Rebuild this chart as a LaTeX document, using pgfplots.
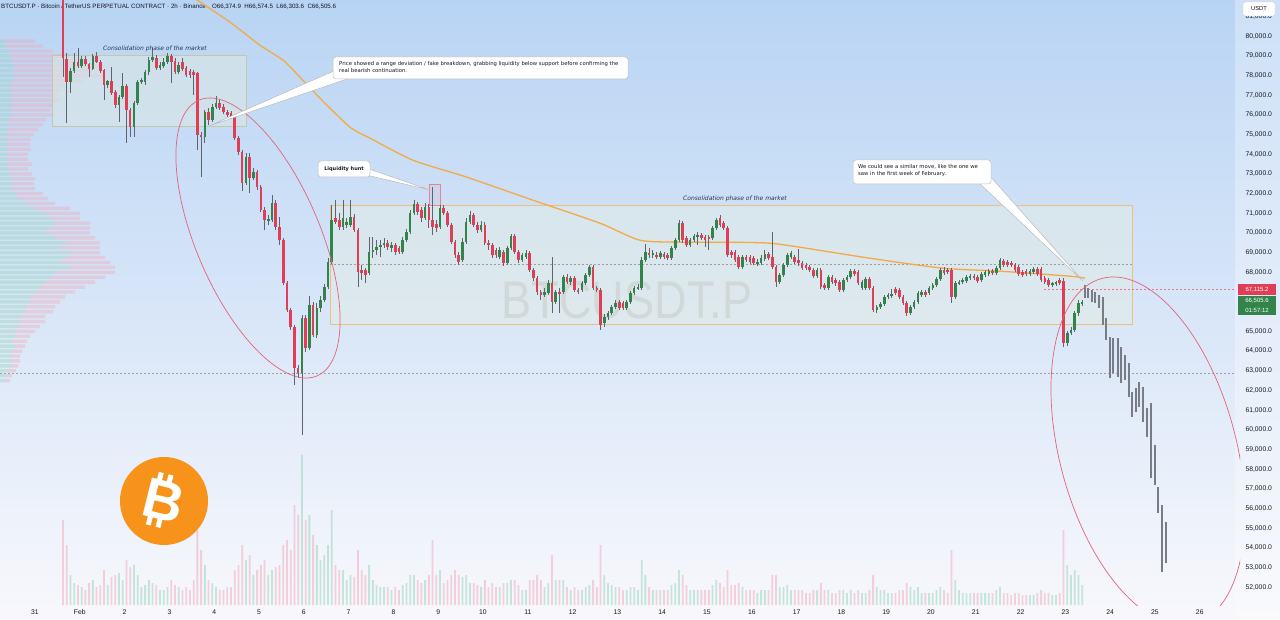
\documentclass[border=0pt]{standalone}
\usepackage{pgfplots}
\pgfplotsset{compat=1.18}
\usepackage{pgfplotstable}
\usepackage{fontspec}
\setmainfont{Liberation Sans}
\newfontfamily\dejavu{DejaVu Sans}
\definecolor{labc}{RGB}{19,23,34}
\definecolor{upc}{RGB}{50,132,74}
\definecolor{dnc}{RGB}{224,62,86}
\definecolor{wick}{RGB}{95,100,110}
\definecolor{bgtop}{RGB}{184,212,244}
\definecolor{bgmid}{RGB}{216,230,248}
\definecolor{bgbot}{RGB}{248,248,252}
\definecolor{maorange}{RGB}{242,170,70}
\definecolor{ellc}{RGB}{226,100,120}
\definecolor{btc}{RGB}{247,147,26}
\definecolor{projc}{RGB}{120,124,134}
\definecolor{box1f}{RGB}{222,232,228}
\definecolor{box1d}{RGB}{196,200,170}
\definecolor{box2f}{RGB}{226,236,228}
\definecolor{box2d}{RGB}{238,192,128}
\definecolor{volup}{RGB}{150,210,185}
\definecolor{voldn}{RGB}{240,170,185}
\definecolor{wm}{RGB}{190,196,205}
\definecolor{cons}{RGB}{40,52,80}

\pgfplotstableread{
t o h l c v
15 83500 83800 77917 78882 85
17 78832 79136 75579 77663 60
19 77663 78374 77104 78222 30
21 78222 79136 78120 78679 22
23 78679 79391 78374 78476 20
25 78476 78984 78374 78832 18
27 78832 78984 78476 78578 15
29 78578 78628 77917 78323 22
31 78323 79086 78273 78984 25
33 78984 79187 78628 78679 18
35 78679 78781 78120 78222 20
37 78273 78323 76748 77510 35
39 77510 77764 77358 77714 20
41 77714 78425 77002 77104 28
43 77155 77256 76341 76494 30
45 76494 77002 75630 76900 32
47 76900 78120 76799 77459 25
49 77459 77561 74563 76240 45
51 76240 76341 74867 75376 38
53 75376 76697 74867 76595 40
55 76595 77764 76494 77663 30
57 77663 77866 77561 77764 18
59 77663 78273 77510 78171 20
61 78171 78933 78019 78781 25
63 78781 79391 78679 78933 22
65 78882 79035 78273 78374 20
67 78374 78679 78273 78527 15
69 78476 78882 78374 78679 15
71 78679 79136 78578 78984 18
73 78984 79086 77612 78679 25
75 78730 78882 78069 78171 20
77 78171 78679 78069 78527 18
79 78679 78882 78222 78323 15
81 78374 78476 77917 78019 18
83 78222 78323 77866 78019 15
85 78171 78273 77002 78019 25
87 78120 78171 74207 74969 75
89 74969 75122 72835 74867 55
91 74867 76240 74563 76138 40
93 76138 76341 75478 75732 25
95 75732 76545 75630 76392 22
97 76392 76951 76291 76595 18
99 76595 76748 76240 76341 15
101 76392 76545 76037 76138 15
103 76138 76240 75884 75986 18
105 76087 76189 75782 75884 18
107 75884 75986 74715 74817 35
109 74817 74918 73953 74105 40
111 74105 74207 72124 72530 60
113 72530 74055 72428 73851 45
115 73851 74055 72022 72784 50
117 72784 73292 72682 73089 30
119 73089 73191 72174 72327 35
121 72327 72428 71056 71158 40
123 71158 71310 70141 70650 45
125 70650 70904 70396 70700 30
127 70650 71920 70548 71514 35
129 71514 71666 70141 70294 38
131 70294 70802 69379 69633 40
133 69633 69735 67346 67448 60
135 67448 67550 65974 66076 65
137 66076 66177 65059 65212 55
139 65212 65313 62264 63128 100
141 63128 63281 62620 62874 90
143 62874 65822 59723 65669 150
145 65669 65822 63942 64145 85
147 64145 66787 64043 66330 90
149 66330 66482 64704 64805 70
151 64805 66432 64653 66177 60
153 66177 66787 65974 66584 45
155 66584 67397 66482 67245 50
157 67245 68718 67143 68515 60
159 68515 71412 68414 70650 95
161 70751 71666 70446 70548 40
163 70650 71005 70141 70294 35
165 70294 71666 70141 70751 35
167 70396 70751 70243 70548 25
169 70396 71666 70294 70802 30
171 70802 70955 70040 70141 28
173 70141 70243 67245 68007 55
175 68109 68363 67600 67956 35
177 68109 68210 67448 67855 30
179 67956 69786 67855 69023 40
181 69023 69786 68718 69125 25
183 69125 69633 68871 69277 20
185 69277 69633 68769 69379 18
187 69379 69735 69227 69481 18
189 69481 69633 69125 69277 18
191 69227 69531 69023 69379 15
193 69379 69481 68871 69023 18
195 69227 69328 68922 69023 15
197 69023 69786 68922 69633 20
199 69633 70192 69531 70040 22
201 70040 71158 69938 71005 30
203 71005 71666 70904 71463 30
205 71463 71564 70904 71056 25
207 71158 71310 70548 70751 22
209 70751 71514 70650 71310 25
211 71310 71463 70243 70650 30
213 70650 72327 69887 70294 65
215 70446 70650 70040 70243 30
217 70294 71412 70192 71260 35
219 71260 71412 70904 71005 22
221 71005 71107 70294 70396 25
223 70396 70497 69430 69531 30
225 69531 69633 68718 68871 35
227 68871 69023 68363 68515 30
229 68617 69735 68515 69531 28
231 69531 70751 69430 70548 30
233 70548 71107 70446 70904 22
235 70904 71005 70294 70396 22
237 70396 70548 69989 70141 20
239 70141 70599 70040 70396 18
241 70396 70548 69379 69481 25
243 69481 69633 69125 69379 18
245 69379 69481 68718 68871 22
247 69125 69227 68718 68871 18
249 68769 69277 68668 69125 18
251 69023 69125 68312 68464 22
253 68464 69328 68363 69227 22
255 69227 69938 69125 69836 25
257 69836 69938 68922 69023 25
259 69023 69125 68464 68617 20
261 68617 68973 68515 68871 15
263 68769 69125 68668 68973 15
265 68973 69074 68007 68109 25
267 68109 68210 67550 67702 25
269 67702 67804 66838 66991 30
271 66991 67092 66584 66838 25
273 66838 67194 66737 66991 18
275 66940 67600 66838 67448 22
277 67448 68769 65923 66482 50
279 66482 67092 66381 66991 25
281 66991 67194 65923 66940 25
283 66991 67855 66889 67753 25
285 67753 67905 67397 67499 18
287 67499 67804 67346 67702 15
289 67702 67804 66991 67092 18
291 67092 67194 66889 66991 15
293 67092 67550 66991 67448 15
295 67448 67956 67346 67855 18
297 67855 68363 67753 68261 20
299 68261 68363 67092 67194 25
301 67194 67296 66991 67092 18
303 67092 67194 65059 65313 60
305 65415 65872 65212 65720 30
307 65720 66025 65567 65923 22
309 65923 66330 65822 66228 20
311 66228 66584 66126 66432 18
313 66482 66584 66076 66177 18
315 66432 66533 66076 66177 15
317 66177 66584 66076 66482 15
319 66482 67041 66381 66940 18
321 66940 67296 66838 67194 18
323 67194 67397 67092 67245 15
325 67194 68769 67092 68617 45
327 68617 69430 68515 69023 30
329 68973 69227 68718 68871 18
331 68871 69125 68718 68973 15
333 68871 69023 68668 68769 15
335 68769 69074 68668 68973 15
337 68922 69023 68668 68769 15
339 68871 68973 68617 68718 15
341 68718 69328 68617 69227 20
343 69227 69735 69125 69633 22
345 69633 70650 69531 70497 35
347 70497 70599 69481 69633 30
349 69735 69836 69277 69379 20
351 69379 69735 69277 69633 15
353 69633 69938 69531 69836 15
355 69786 70040 69379 69887 15
357 69887 69989 69633 69735 15
359 69786 69887 69277 69633 15
361 69786 69887 69125 69684 15
363 69735 70345 69633 70243 20
365 70243 70751 70141 70650 25
367 70751 70904 70294 70396 22
369 70497 70599 70141 70243 18
371 70243 70345 68769 68871 35
373 69023 69125 68718 68871 20
375 69023 69125 68515 68617 20
377 68769 68871 68159 68261 22
379 68261 68871 68159 68769 18
381 68769 68871 68515 68617 15
383 68769 68871 68414 68515 15
385 68718 68820 68363 68464 15
387 68464 68668 68312 68515 12
389 68464 68871 68363 68718 15
391 68668 69125 68566 68922 15
393 68922 69023 68617 68718 15
395 68769 70040 68159 68261 30
397 68261 68363 67245 67499 30
399 67499 67956 67397 67855 18
401 67855 68464 67753 68363 18
403 68363 68973 68261 68871 20
405 68769 69074 68668 68973 15
407 68769 68871 68414 68515 15
409 68617 69176 68312 68464 15
411 68464 68566 68109 68210 15
413 68363 68464 68109 68210 12
415 68261 68363 68007 68109 12
417 68109 68210 67702 67804 15
419 67804 68210 67702 68109 15
421 68109 68210 67143 67245 22
423 67346 67448 67092 67194 15
425 67194 67855 67092 67753 15
427 67753 67855 67397 67499 12
429 67600 67702 67296 67448 12
431 67499 67600 66991 67092 15
433 67092 67702 66991 67600 15
435 67600 67855 67499 67753 12
437 67753 68159 67651 68058 15
439 68058 68159 67804 67905 12
441 68007 68109 67346 67448 15
443 67194 67600 67092 67499 12
445 67194 67753 67092 67651 12
447 67651 67753 67092 67194 15
449 67194 67296 65974 66076 30
451 66076 66330 65923 66228 18
453 66228 66482 66126 66381 15
455 66381 66838 66279 66737 15
457 66737 66940 66635 66838 12
459 66787 67143 66686 66889 12
461 67143 67245 66838 66940 12
463 67092 67194 66635 66737 15
465 66737 66838 66330 66432 15
467 66432 66533 65771 65923 22
469 65923 66330 65822 66228 18
471 66228 66584 66126 66482 15
473 66482 67041 66381 66940 18
475 66838 67092 66737 66991 12
477 66991 67092 66737 66838 12
479 66940 67296 66838 67194 12
481 67194 67448 67092 67346 12
483 67346 67753 67245 67651 15
485 67651 68210 67550 68109 18
487 68109 68261 67855 67956 15
489 68109 68210 67905 68007 12
491 68109 68210 66432 66737 55
493 66737 67550 66635 67448 25
495 67448 67600 67346 67499 15
497 67499 67702 67397 67600 12
499 67550 67855 67448 67753 12
501 67702 67905 67600 67804 12
503 67804 67905 67600 67702 12
505 67753 67855 67448 67550 12
507 67600 68007 67499 67905 12
509 67855 68109 67753 68007 12
511 67905 68159 67804 68058 12
513 68058 68159 67855 67956 12
515 67956 68312 67855 68210 15
517 68210 68718 68109 68617 18
519 68566 68668 68261 68363 12
521 68515 68617 68261 68363 12
523 68464 68566 68261 68363 10
525 68363 68464 68007 68109 12
527 68261 68363 67804 67905 12
529 68007 68109 67753 67855 10
531 68058 68159 67804 67905 10
533 67905 68159 67804 68058 10
535 68007 68261 67905 68159 10
537 68159 68261 67804 67905 12
539 68159 68261 67499 67600 15
541 67702 67804 67397 67499 12
543 67600 67702 67245 67346 12
545 67346 67499 67245 67448 10
547 67397 67550 67296 67499 10
549 67600 67702 67346 67448 12
551 67550 67702 64195 64399 75
553 64399 65008 64246 64907 40
555 64907 65212 64805 65059 30
557 65059 66025 64958 65923 35
559 65923 66584 65771 66432 30
561 66374.9 66574.5 66303.6 66505.6 20
}\candles

\pgfplotstableread{
t lo hi
562.5 66686 67346
564.1 66686 67194
566.25 66482 67092
567.9 66432 66991
570 66177 66838
572.1 65313 66737
573.75 64552 65669
575.9 62620 64704
577.5 62874 64653
580.2 62671 64653
581.8 62366 64195
583.9 62518 63789
586.1 61654 63382
587.7 60638 61909
589.8 60892 62112
591.4 61147 62417
593.6 60384 62163
595.7 59622 61096
597.9 57538 61350
600 57182 59215
601.6 55759 57081
603.8 52761 56166
605.9 53219 55302
}\proj

\pgfplotstableread{
p up dn
79750 5 30
79500 5 38
79250 8 45
79000 10 60
78750 12 75
78500 15 85
78250 12 80
78000 15 90
77750 12 70
77500 10 55
77250 10 50
77000 12 45
76750 10 50
76500 12 42
76250 10 40
76000 10 45
75750 8 38
75500 8 35
75250 8 30
75000 6 28
74750 6 25
74500 8 22
74250 6 25
74000 8 20
73750 6 22
73500 8 24
73250 8 20
73000 10 22
72750 10 25
72500 12 22
72250 10 25
72000 15 28
71750 18 30
71500 25 30
71250 35 35
71000 45 35
70750 50 30
70500 55 35
70250 50 40
70000 45 45
69750 55 40
69500 65 35
69250 60 40
69000 70 30
68750 65 40
68500 60 50
68250 70 45
68000 55 60
67750 50 55
67500 45 50
67250 40 45
67000 35 40
66750 30 35
66500 30 30
66250 25 30
66000 25 28
65750 20 25
65500 20 25
65250 18 22
65000 15 20
64750 15 15
64500 12 15
64250 15 10
64000 12 10
63750 10 10
63500 12 8
63250 10 8
63000 8 8
62750 6 6
62500 5 5
}\vprof

\pgfplotsset{
  candlebars/.style={only marks, mark=*, mark size=0pt, mark options={draw=none, fill=none}},
}

\begin{document}
\begin{tikzpicture}[x=1pt,y=1pt]
\shade[top color=bgtop, bottom color=bgbot, middle color=bgmid] (0,0) rectangle (1280,619);
\fill[white, opacity=0.3] (1235,0) rectangle (1280,619);
% watermark
\node[text=wm, font=\fontsize{53}{53}\selectfont, xscale=0.85] at (627,319) {BTCUSDT.P};
% header
\node[anchor=west, text=labc, font=\fontsize{6.2}{7}\selectfont, inner sep=0] at (1,612) {BTCUSDT.P · Bitcoin / TetherUS PERPETUAL CONTRACT · 2h · Binance\quad O66,374.9\ \ H66,574.5\ \ L66,303.6\ \ C66,505.6};
% bitcoin logo
\fill[btc] (164,118) circle[radius=44pt];
\begin{scope}[shift={(164,118)}, rotate=-14]
\node[text=white, font=\bfseries\fontsize{56}{56}\selectfont, inner sep=0, transform shape] at (0,0) {B};
\fill[white] (-12,18) rectangle (-7,27);
\fill[white] (-2,18) rectangle (3,27);
\fill[white] (-12,-27) rectangle (-7,-18);
\fill[white] (-2,-27) rectangle (3,-18);
\end{scope}

% volume profile
\begin{axis}[at={(0,7)}, anchor=south west, scale only axis, width=1235pt, height=605pt,
  xmin=0, xmax=1235, ymin=51083, ymax=81829, hide axis, xbar stacked, bar width=3.4pt]
\addplot[fill=volup, fill opacity=0.4, draw=none] table[x=up, y=p] {\vprof};
\addplot[fill=voldn, fill opacity=0.4, draw=none] table[x=dn, y=p] {\vprof};
\end{axis}

% volume bars
\begin{axis}[at={(0,14)}, anchor=south west, scale only axis, width=1235pt, height=605pt,
  xmin=-18.75, xmax=642.86, ymin=0, ymax=605, hide axis]
\addplot[ybar, bar width=1.8pt, fill=volup, fill opacity=0.5, draw=none, restrict y to domain=0:10000]
  table[x=t, y expr={\thisrow{c}>=\thisrow{o} ? \thisrow{v} : -100}] {\candles};
\addplot[ybar, bar width=1.8pt, fill=voldn, fill opacity=0.5, draw=none, restrict y to domain=0:10000]
  table[x=t, y expr={\thisrow{c}<\thisrow{o} ? \thisrow{v} : -100}] {\candles};
\end{axis}

% main price axis
\begin{axis}[at={(0,7)}, anchor=south west, scale only axis, width=1235pt, height=605pt,
  xmin=-18.75, xmax=642.86, ymin=51083, ymax=81829,
  axis line style={draw=none}, major tick length=0pt,
  xtick={0,24,48,72,96,120,144,168,192,216,240,264,288,312,336,360,384,408,432,456,480,504,528,552,576,600,624},
  xticklabels={31,Feb,2,3,4,5,6,7,8,9,10,11,12,13,14,15,16,17,18,19,20,21,22,23,24,25,26},
  ytick={52000,53000,54000,55000,56000,57000,58000,59000,60000,61000,62000,63000,64000,65000,68000,69000,70000,71000,72000,73000,74000,75000,76000,77000,78000,79000,80000,81000},
  yticklabel pos=right, scaled y ticks=false,
  /pgf/number format/assume math mode=true,
  y tick label style={anchor=west, xshift=7pt, /pgf/number format/fixed, /pgf/number format/fixed zerofill, /pgf/number format/precision=1, /pgf/number format/1000 sep={,}},
  x tick label style={yshift=-1pt},
  tick label style={font=\fontsize{6.8}{8}\selectfont, text=labc}]
% consolidation boxes
\filldraw[fill=box1f, fill opacity=0.55, draw=box1d, line width=0.8pt] (axis cs:9.1,75427) rectangle (axis cs:113,79035);
\filldraw[fill=box2f, fill opacity=0.5, draw=box2d, line width=0.8pt] (axis cs:158,65364) rectangle (axis cs:587.7,71412);
\filldraw[fill=ellc, fill opacity=0.08, draw=ellc!80, line width=0.6pt] (axis cs:211.1,71412) rectangle (axis cs:217,72479);
% dashed levels
\draw[gray!75, dash pattern=on 2pt off 2pt, line width=0.6pt] (axis cs:-18.75,62874) -- (axis cs:642.86,62874);
\draw[gray!75, dash pattern=on 2pt off 2pt, line width=0.6pt] (axis cs:158,68388) -- (axis cs:587.7,68388);
\draw[dnc!70, dash pattern=on 2pt off 2pt, line width=0.6pt] (axis cs:540.8,67115.2) -- (axis cs:642.86,67115.2);
% moving average
\addplot[maorange, line width=1.3pt, smooth, tension=0.4] coordinates {
(83,82084) (104.5,80712) (120.5,79543) (132.9,78781) (142,77917) (152.7,76850) (168.75,75376) (179.5,74817) (202.5,73699) (231.4,72835) (266.8,71666) (302.7,70497) (324.1,69633) (347.1,69531) (373.9,69531) (393.75,69481) (409.8,69277) (447.3,68718) (486.4,68210) (517,68058) (554.5,67804) (562.5,67702)};
% projected bars
\addplot[candlebars, error bars/.cd, y dir=both, y explicit, error mark=none,
  error bar style={line width=1.6pt, color=projc}]
  table[x=t, y expr={0.5*(\thisrow{lo}+\thisrow{hi})}, y error expr={0.5*(\thisrow{hi}-\thisrow{lo})}] {\proj};
% wicks
\addplot[candlebars, error bars/.cd, y dir=both, y explicit, error mark=none,
  error bar style={line width=0.8pt, color=wick}]
  table[x=t, y expr={0.5*(\thisrow{h}+\thisrow{l})}, y error expr={0.5*(\thisrow{h}-\thisrow{l})}] {\candles};
% up bodies
\addplot[candlebars, restrict y to domain=0:1000000, error bars/.cd, y dir=both, y explicit, error mark=none,
  error bar style={line width=2.6pt, color=upc}]
  table[x=t, y expr={\thisrow{c}>=\thisrow{o} ? 0.5*(\thisrow{o}+\thisrow{c}) : -100}, y error expr={max(0.5*abs(\thisrow{c}-\thisrow{o}),25)}] {\candles};
% down bodies
\addplot[candlebars, restrict y to domain=0:1000000, error bars/.cd, y dir=both, y explicit, error mark=none,
  error bar style={line width=2.6pt, color=dnc}]
  table[x=t, y expr={\thisrow{c}<\thisrow{o} ? 0.5*(\thisrow{o}+\thisrow{c}) : -100}, y error expr={max(0.5*abs(\thisrow{c}-\thisrow{o}),25)}] {\candles};
\end{axis}

% consolidation labels
\node[text=cons, font=\dejavu\itshape\fontsize{6}{7}\selectfont] at (155,570) {Consolidation phase of the market};
\node[text=cons, font=\dejavu\itshape\fontsize{6}{7}\selectfont] at (735,420) {Consolidation phase of the market};

% ellipses
\draw[ellc, line width=0.7pt] (258,381) circle[x radius=150pt, y radius=62pt, rotate=-66.8];
\begin{scope}
\clip (0,14) rectangle (1240,619);
\draw[ellc, line width=0.7pt] (1148,168) circle[x radius=178.6pt, y radius=88.3pt, rotate=-75];
\end{scope}

% callout 1
\filldraw[fill=white, draw=gray!55, line width=0.5pt] (336,549) -- (209,493) -- (350,541) -- cycle;
\filldraw[fill=white, draw=gray!50, line width=0.5pt, rounded corners=3pt] (333,540) rectangle (628,562);
\node[anchor=north west, align=left, text=labc, font=\dejavu\fontsize{5.3}{7}\selectfont, inner sep=0] at (339,558) {Price showed a range deviation / fake breakdown, grabbing liquidity below support before confirming the\\real bearish continuation.};
% callout 2
\filldraw[fill=white, draw=gray!55, line width=0.5pt] (366,451) -- (430,429) -- (366,444) -- cycle;
\filldraw[fill=white, draw=gray!50, line width=0.5pt, rounded corners=3pt] (318,442) rectangle (370,458);
\node[text=labc, font=\dejavu\bfseries\fontsize{5}{6}\selectfont] at (344,450) {Liquidity hunt};
% callout 3
\filldraw[fill=white, draw=gray!55, line width=0.5pt] (978,437) -- (1083,338) -- (989,444) -- cycle;
\filldraw[fill=white, draw=gray!50, line width=0.5pt, rounded corners=3pt] (853,435) rectangle (991,459);
\node[anchor=north west, align=left, text=labc, font=\dejavu\fontsize{5.3}{7}\selectfont, inner sep=0] at (858,455) {We could see a similar move, like the one we\\saw in the first week of February.};

% price axis labels
\filldraw[fill=white, draw=gray!40, line width=0.4pt, rounded corners=2pt] (1243,603) rectangle (1275,617);
\node[text=labc, font=\fontsize{5.8}{7}\selectfont, inner sep=0] at (1259,610) {USDT};
\fill[dnc] (1238,324) rectangle (1276,335);
\node[text=white, font=\fontsize{6}{7}\selectfont, inner sep=0] at (1257,329.5) {67,115.2};
\fill[upc] (1238,304) rectangle (1276,323);
\node[text=white, font=\fontsize{6}{7}\selectfont, inner sep=0] at (1257,317.8) {66,505.6};
\node[text=white, font=\fontsize{6}{7}\selectfont, inner sep=0] at (1257,308.8) {01:57:12};

\pgfresetboundingbox
\path[use as bounding box] (0,0) rectangle (1280,619);
\end{tikzpicture}
\end{document}
